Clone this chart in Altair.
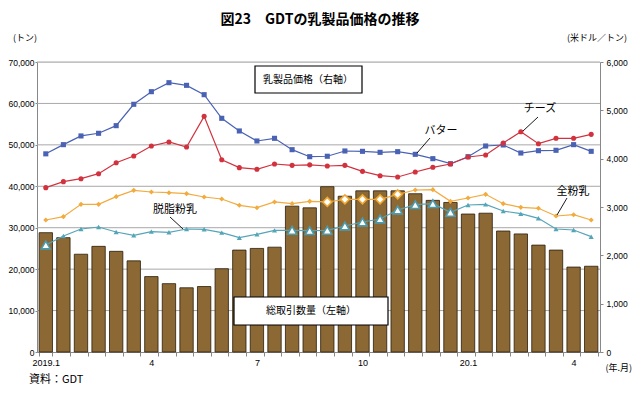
import altair as alt
import pandas as pd

# ---- data ----
idx = list(range(32))
x_labels = {0: "2019.1", 6: "4", 12: "7", 18: "10", 24: "20.1", 30: "4"}
volume = [28800, 27600, 23600, 25500, 24300, 22000, 18200, 16500, 15500, 15800,
          20100, 24600, 25000, 25300, 35200, 34800, 39900, 37600, 38900, 38900,
          38900, 38200, 36600, 36100, 33300, 33500, 29200, 28500, 25800, 24600,
          20500, 20700]
butter = [4100, 4290, 4470, 4525, 4683, 5125, 5386, 5572, 5517, 5324, 4835, 4573,
          4366, 4421, 4186, 4041, 4050, 4159, 4152, 4131, 4145, 4090, 4000, 3896,
          4041, 4262, 4283, 4117, 4165, 4173, 4290, 4152]
cheese = [3400, 3524, 3586, 3689, 3917, 4055, 4262, 4345, 4241, 4876, 3979, 3814,
          3780, 3890, 3862, 3872, 3848, 3862, 3738, 3648, 3621, 3724, 3821, 3890,
          4035, 4076, 4324, 4558, 4310, 4421, 4421, 4503]
wmp = [2731, 2800, 3055, 3055, 3214, 3345, 3310, 3296, 3276, 3207, 3166, 3035,
       2986, 3104, 3069, 3117, 3104, 3159, 3159, 3159, 3262, 3352, 3359, 3117,
       3186, 3262, 3069, 2993, 2973, 2814, 2841, 2731]
smp = [2214, 2400, 2545, 2586, 2483, 2414, 2490, 2476, 2545, 2538, 2469, 2365,
       2435, 2517, 2517, 2510, 2517, 2607, 2690, 2752, 2938, 3048, 3069, 2890,
       3041, 3055, 2917, 2862, 2766, 2545, 2524, 2386]
left_ticks = [0, 10000, 20000, 30000, 40000, 50000, 60000, 70000]
right_ticks = [0, 1000, 2000, 3000, 4000, 5000, 6000]
series_names = ["バター", "チーズ", "全粉乳", "脱脂粉乳"]
series_vals = [butter, cheese, wmp, smp]
series_colors = ["#4A62B4", "#D2323E", "#F2AB3E", "#55A5B8"]
marker_colors = ["#2E3C90", "#C8283A", "#F0A830", "#4A9AB0"]
series_shapes = ["square", "circle", "diamond", "triangle-up"]

LMAX, RMAX = 70000, 6000
W, H = 563, 290
FONT_JP = "Noto Sans CJK JP"
FONT_NUM = "Liberation Sans"

df_bar = pd.DataFrame({"idx": idx, "volume": volume})
df_grid = pd.DataFrame({"volume": left_ticks[1:]})
rows = []
for name, vals in zip(series_names, series_vals):
    for i, v in zip(idx, vals):
        rows.append({"idx": i, "series": name, "price": v,
                     "inbar": v / RMAX * LMAX < volume[i]})
df = pd.DataFrame(rows)

expr = "''"
for k in sorted(x_labels, reverse=True):
    expr = f"datum.value == {k} ? '{x_labels[k]}' : ({expr})"

xenc = alt.X("idx:O", title=None,
             scale=alt.Scale(paddingInner=0.24, paddingOuter=0.12),
             axis=alt.Axis(labelExpr=expr, labelAngle=0, tickBand="extent",
                           tickSize=4, tickColor="#888888", domainColor="#888888",
                           labelFont=FONT_NUM, labelFontSize=9, labelColor="#000000",
                           labelPadding=2))

yleft = alt.Y("volume:Q", title=None, scale=alt.Scale(domain=[0, LMAX]),
              axis=alt.Axis(values=left_ticks, format=",d", grid=False, tickSize=2,
                            tickColor="#888888", domainColor="#888888",
                            labelFont=FONT_NUM, labelFontSize=8.5, labelColor="#000000",
                            labelPadding=1))

grid = alt.Chart(df_grid).mark_rule(color="#A8A8A8", strokeWidth=1).encode(y=yleft)
bars = alt.Chart(df_bar).mark_bar(color="#8C6934", stroke="#2A1D0A", strokeWidth=0.8).encode(
    x=xenc, y=yleft)
left = alt.layer(grid, bars)

yprice = alt.Y("price:Q", title=None, scale=alt.Scale(domain=[0, RMAX]),
               axis=alt.Axis(orient="right", values=right_ticks,
                             format=",d", grid=False, tickSize=3, tickColor="#888888",
                             domainColor="#888888", labelFont=FONT_NUM,
                             labelFontSize=8.5, labelColor="#000000", labelPadding=3))
cscale = alt.Scale(domain=series_names, range=series_colors)
mscale = alt.Scale(domain=series_names, range=marker_colors)
sscale = alt.Scale(domain=series_names, range=series_shapes)

base = alt.Chart(df)
lines = base.mark_line(strokeWidth=1.2).encode(
    x=xenc, y=yprice, color=alt.Color("series:N", scale=cscale, legend=None),
    detail="series:N")
pts_small = base.transform_filter("!datum.inbar").mark_point(filled=True, size=26, opacity=1).encode(
    x=xenc, y=yprice,
    color=alt.Color("series:N", scale=mscale, legend=None),
    shape=alt.Shape("series:N", scale=sscale, legend=None))
pts_big = base.transform_filter("datum.inbar").mark_point(filled=True, size=80, opacity=1,
                                                          fill="#FFFFFF", strokeWidth=1.6).encode(
    x=xenc, y=yprice,
    stroke=alt.Stroke("series:N", scale=mscale, legend=None),
    shape=alt.Shape("series:N", scale=sscale, legend=None))
prices = alt.layer(lines, pts_small, pts_big)


def txt(t, x, y, size=10, align="center", weight="normal", font=FONT_JP):
    return alt.Chart(pd.DataFrame({"t": [t]})).mark_text(
        align=align, baseline="middle", fontSize=size, fontWeight=weight,
        font=font, color="#000000").encode(x=alt.value(x), y=alt.value(y), text="t:N")


def box(x1, x2, y1, y2):
    return alt.Chart(pd.DataFrame({"a": [0]})).mark_rect(
        fill="#FFFFFF", stroke="#000000", strokeWidth=1.2).encode(
        x=alt.value(x1), x2=alt.value(x2), y=alt.value(y1), y2=alt.value(y2))


def leader(x1, y1, x2, y2):
    return alt.Chart(pd.DataFrame({"a": [0]})).mark_rule(
        color="#000000", strokeWidth=0.9).encode(
        x=alt.value(x1), x2=alt.value(x2), y=alt.value(y1), y2=alt.value(y2))


annots = [
    box(218, 325, 4, 31), txt("乳製品価格（右軸）", 271, 17.5, 10),
    box(197, 351, 235, 263), txt("総取引数量（左軸）", 274, 249, 10),
    txt("チーズ", 503, 47, 11), leader(501, 55, 486, 69),
    txt("バター", 404, 69, 11), leader(393, 76, 380, 91),
    txt("全粉乳", 536, 130, 11), leader(530, 136, 520, 153),
    txt("脱脂粉乳", 138, 148, 11), leader(133, 155, 146, 167),
    txt("図23　GDTの乳製品価格の推移", 283, -42, 14, weight="bold"),
    txt("(トン)", -12, -24, 9),
    txt("(米ドル／トン)", 590, -24, 9, align="right"),
    txt("(年.月)", 595, 306, 9, align="right"),
    txt("資料：GDT", -8, 318, 11, align="left"),
]

chart = alt.layer(left, prices, *annots).resolve_scale(
    y="independent", color="independent", shape="independent", stroke="independent"
).properties(
    width=W, height=H, autosize=alt.AutoSizeParams(type="none"),
    padding={"left": 29, "top": 54, "right": 32, "bottom": 33}
).configure_view(stroke=None).configure(background="#FFFFFF")

chart.save("out.html", embed_options={"renderer": "svg", "actions": False})
